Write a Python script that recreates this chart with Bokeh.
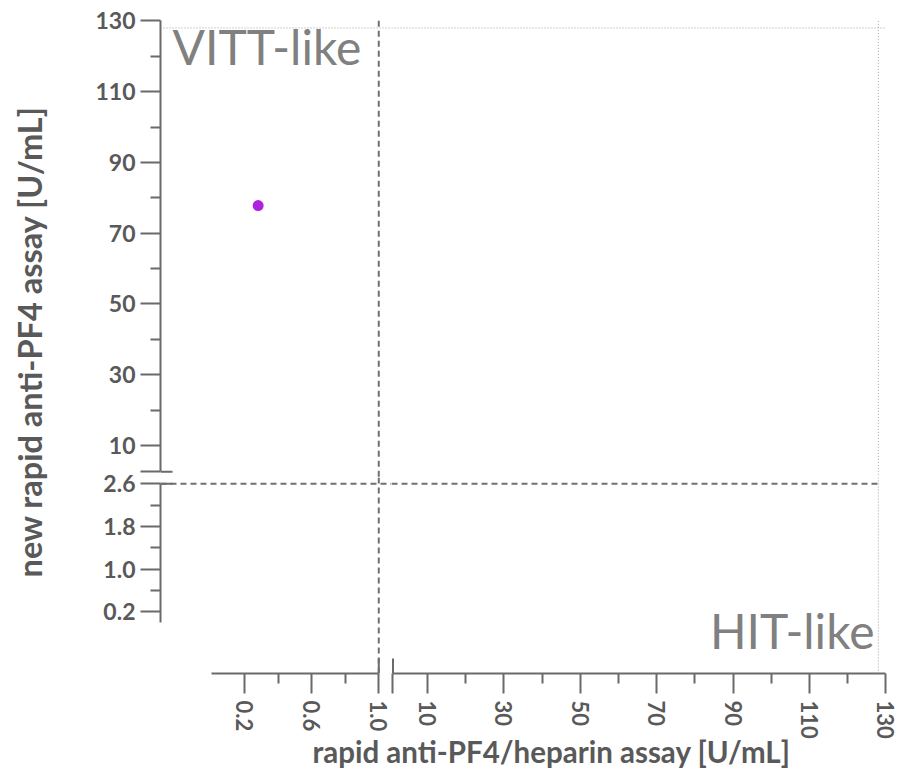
import math
from bokeh.plotting import figure
from bokeh.models import Range1d, FixedTicker, Label, Span
from bokeh.layouts import row, column
from bokeh.embed import file_html
from bokeh.resources import INLINE

# ---------------- data ----------------
point_x = [0.28]
point_y = [77.8]

x_low_ticks = [0.2, 0.6, 1.0]
x_low_labels = ["0.2", "0.6", "1.0"]
x_low_minor = [0.4, 0.8]
x_high_ticks = [10, 30, 50, 70, 90, 110, 130]
x_high_labels = ["10", "30", "50", "70", "90", "110", "130"]
x_high_minor = [20, 40, 60, 80, 100, 120]

y_low_ticks = [0.2, 1.0, 1.8, 2.6]
y_low_labels = ["0.2", "1.0", "1.8", "2.6"]
y_low_minor = [0.6, 1.4, 2.2]
y_high_ticks = [10, 30, 50, 70, 90, 110, 130]
y_high_labels = ["10", "30", "50", "70", "90", "110", "130"]
y_high_minor = [20, 40, 60, 80, 100, 120]

x_low_bounds = (0.0, 1.0)
x_high_bounds = (1.0, 130.0)
y_low_bounds = (0.0, 2.6)
y_high_bounds = (2.6, 130.0)

x_cutoff = 1.0
y_cutoff = 2.6
x_limit = 128
y_limit = 128

x_title = "rapid anti-PF4/heparin assay [U/mL]"
y_title = "new rapid anti-PF4 assay [U/mL]"
upper_left_text = "VITT-like"
lower_right_text = "HIT-like"

# ---------------- style / layout ----------------
FONT = "Lato"
AX_COL = "#6a6a6a"
LBL_COL = "#595959"
QUAD_COL = "#808080"
DASH_COL = "#707070"
DOT_COL = "#a0a0a0"
PT_COL = "#b020e0"

FW_L, FW_R, FH_T, FH_B = 231, 499, 463, 196
B_LEFT, B_RIGHT, B_TOP, B_BOTTOM = 110, 9, 14, 68
YLAB_W = 50
ROW_OVERLAP = 12
XLAB_OVERLAP = 14
XLAB_H = 33 + XLAB_OVERLAP

XL = (-0.303, 1.076)
XH = (0.6075, 131.18)
YH = (0.955, 131.8)
YL = (-0.957, 2.718)


def make_fig(xr, yr, fw, fh, bl, br, bt, bb, xloc, yloc, transparent=False):
    p = figure(x_range=Range1d(*xr), y_range=Range1d(*yr),
               frame_width=fw, frame_height=fh,
               x_axis_location=xloc, y_axis_location=yloc,
               toolbar_location=None, output_backend="svg", title=None,
               min_border_left=bl, min_border_right=br,
               min_border_top=bt, min_border_bottom=bb)
    p.grid.visible = False
    p.outline_line_color = None
    p.background_fill_color = "white"
    p.border_fill_color = None if transparent else "white"
    return p


def style_axis(ax, ticks, minor, labels, bounds, fsize):
    ax.ticker = FixedTicker(ticks=ticks, minor_ticks=minor)
    ax.major_label_overrides = {t: l for t, l in zip(ticks, labels)}
    ax.bounds = bounds
    ax.axis_line_color = AX_COL
    ax.axis_line_width = 2
    ax.major_tick_line_color = AX_COL
    ax.major_tick_line_width = 2
    ax.minor_tick_line_color = AX_COL
    ax.minor_tick_line_width = 2
    ax.major_tick_out = 20
    ax.major_tick_in = 0
    ax.minor_tick_out = 10
    ax.minor_tick_in = 0
    ax.major_label_text_font = FONT
    ax.major_label_text_font_style = "bold"
    ax.major_label_text_font_size = fsize
    ax.major_label_text_color = LBL_COL
    ax.axis_label = None


tl = make_fig(XL, YH, FW_L, FH_T, B_LEFT, 0, B_TOP, 0, None, "left")
tr = make_fig(XH, YH, FW_R, FH_T, 0, B_RIGHT, B_TOP, 0, None, None)
bl = make_fig(XL, YL, FW_L, FH_B, B_LEFT, 0, ROW_OVERLAP, B_BOTTOM, "below", "left", True)
br = make_fig(XH, YL, FW_R, FH_B, 0, B_RIGHT, ROW_OVERLAP, B_BOTTOM, "below", None, True)

# y axes
style_axis(tl.yaxis[0], y_high_ticks + [y_high_bounds[0]], y_high_minor,
           y_high_labels + [""], y_high_bounds, "23px")
tl.yaxis[0].major_label_standoff = 5
style_axis(bl.yaxis[0], y_low_ticks, y_low_minor, y_low_labels, y_low_bounds, "23px")
bl.yaxis[0].major_label_standoff = 5
# x axes
style_axis(bl.xaxis[0], x_low_ticks, x_low_minor, x_low_labels, x_low_bounds, "22px")
style_axis(br.xaxis[0], [x_high_bounds[0]] + x_high_ticks, x_high_minor,
           [""] + x_high_labels, x_high_bounds, "22px")
for ax in (bl.xaxis[0], br.xaxis[0]):
    ax.major_label_orientation = "vertical"
    ax.major_label_standoff = 7

# break caps (inner halves)
CAP_IN_X = 15 * (YL[1] - YL[0]) / FH_B
CAP_IN_Y = 12 * (XL[1] - XL[0]) / FW_L
for p, xv in ((bl, x_low_bounds[1]), (br, x_high_bounds[0])):
    p.segment(x0=[xv], y0=[YL[0]], x1=[xv], y1=[YL[0] + CAP_IN_X],
              line_color=AX_COL, line_width=2)
for p, yv in ((tl, y_high_bounds[0]), (bl, y_low_bounds[1])):
    p.segment(x0=[XL[0]], y0=[yv], x1=[XL[0] + CAP_IN_Y], y1=[yv],
              line_color=AX_COL, line_width=2)

# cutoff dashed lines
DASH = "6 4"
DW = 2
tl.segment(x0=[x_cutoff], y0=[y_high_bounds[1]], x1=[x_cutoff], y1=[YH[0]],
           line_color=DASH_COL, line_width=DW, line_dash=DASH)
bl.add_layout(Span(location=x_cutoff, dimension="height", line_color=DASH_COL,
                   line_width=DW, line_dash=DASH))
bl.add_layout(Span(location=y_cutoff, dimension="width", line_color=DASH_COL,
                   line_width=DW, line_dash=DASH))
br.segment(x0=[XH[0]], y0=[y_cutoff], x1=[x_limit], y1=[y_cutoff],
           line_color=DASH_COL, line_width=DW, line_dash=DASH)

# dotted limit lines
DOT = "1 2"
tl.add_layout(Span(location=y_limit, dimension="width", line_color=DOT_COL,
                   line_width=1, line_dash=DOT))
tr.segment(x0=[XH[0]], y0=[y_limit], x1=[x_high_bounds[1]], y1=[y_limit],
           line_color=DOT_COL, line_width=1, line_dash=DOT)
tr.segment(x0=[x_limit], y0=[y_high_bounds[1]], x1=[x_limit], y1=[YH[0]],
           line_color=DOT_COL, line_width=1, line_dash=DOT)
br.add_layout(Span(location=x_limit, dimension="height", line_color=DOT_COL,
                   line_width=1, line_dash=DOT))

# points: assign to quadrant panels
panels = ((tl, False, True), (tr, True, True), (bl, False, False), (br, True, False))
for p, x_hi, y_hi in panels:
    xs, ys = [], []
    for xv, yv in zip(point_x, point_y):
        in_x = (xv > x_low_bounds[1]) == x_hi
        in_y = (yv > y_low_bounds[1]) == y_hi
        if in_x and in_y:
            xs.append(xv)
            ys.append(yv)
    if xs:
        p.scatter(x=xs, y=ys, size=11, fill_color=PT_COL, line_color=None)

# quadrant labels
tl.add_layout(Label(x=-0.231, y=122.67, text=upper_left_text, text_font=FONT,
                    text_font_size="48px", text_color=QUAD_COL,
                    text_align="left", text_baseline="middle"))
br.add_layout(Label(x=126.99, y=-0.147, text=lower_right_text, text_font=FONT,
                    text_font_size="48px", text_color=QUAD_COL,
                    text_align="right", text_baseline="middle"))

# axis titles in their own panels
H_ALL = B_TOP + FH_T + FH_B + B_BOTTOM
ylab = figure(x_range=Range1d(0, YLAB_W), y_range=Range1d(0, H_ALL),
              frame_width=YLAB_W, frame_height=H_ALL, x_axis_location=None,
              y_axis_location=None, toolbar_location=None, output_backend="svg",
              title=None, min_border=0, min_border_left=0, min_border_right=0,
              min_border_top=0, min_border_bottom=0)
ylab.grid.visible = False
ylab.outline_line_color = None
ylab.add_layout(Label(x=29, y=H_ALL - 341, text=y_title, angle=math.pi / 2,
                      text_font=FONT, text_font_style="bold", text_font_size="32.5px",
                      text_color=LBL_COL, text_align="center", text_baseline="middle"))

W_ALL = YLAB_W + B_LEFT + FW_L + FW_R + B_RIGHT
xlab = figure(x_range=Range1d(0, W_ALL), y_range=Range1d(0, XLAB_H),
              frame_width=W_ALL, frame_height=XLAB_H, x_axis_location=None,
              y_axis_location=None, toolbar_location=None, output_backend="svg",
              title=None, min_border=0, min_border_left=0, min_border_right=0,
              min_border_top=0, min_border_bottom=0,
              margin=(-XLAB_OVERLAP, 0, 0, 0))
xlab.grid.visible = False
xlab.outline_line_color = None
xlab.background_fill_color = None
xlab.border_fill_color = None
xlab.add_layout(Label(x=551, y=22.6, text=x_title, text_font=FONT,
                      text_font_style="bold", text_font_size="29.5px",
                      text_color=LBL_COL, text_align="center",
                      text_baseline="middle"))

bottom_row = row(bl, br, margin=(-ROW_OVERLAP, 0, 0, 0))
layout = column(row(ylab, column(row(tl, tr), bottom_row)), xlab)

open("out.html", "w").write(file_html(layout, INLINE))
